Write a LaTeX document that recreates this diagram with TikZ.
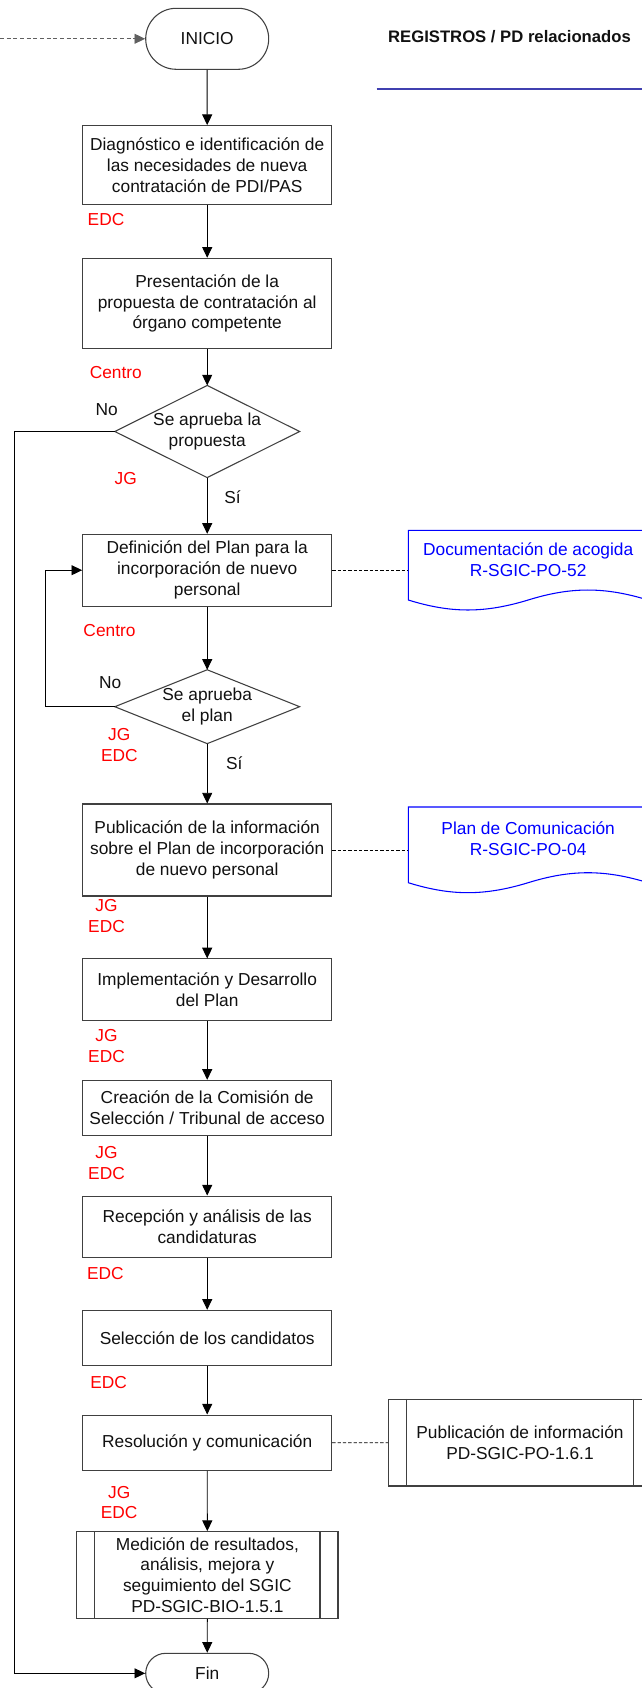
\documentclass[tikz,border=0pt]{standalone}
\usepackage{fontspec}
\setmainfont{Liberation Sans}
\usetikzlibrary{shapes.geometric,shapes.misc,arrows.meta}
\definecolor{boxline}{HTML}{404040}
\definecolor{txt}{HTML}{111111}
\definecolor{lblred}{HTML}{FF0000}
\definecolor{docblue}{HTML}{0000FF}
\definecolor{rulecol}{HTML}{4040B0}
\definecolor{dashgray}{HTML}{606060}
\begin{document}
\begin{tikzpicture}[x=0.75pt,y=-0.75pt,
  every node/.style={font=\fontsize{13}{15.6}\selectfont, inner sep=0pt, align=center},
  conn/.style={draw=black, line width=0.7pt, -{Triangle[length=8pt,width=7.5pt]}},
  startconn/.style={draw=dashgray, line width=0.7pt, dash pattern=on 3pt off 2pt, -{Triangle[length=8pt,width=7.5pt]}},
  docdash/.style={draw=black, line width=0.6pt, dash pattern=on 2.5pt off 1.5pt},
  proc/.style={draw=boxline, line width=0.8pt, rectangle, minimum width=186.75pt, text=txt},
  term/.style={draw=boxline, line width=0.8pt, rounded rectangle, minimum width=92.25pt, text=txt},
  decbox/.style={rectangle, minimum width=138.2pt, minimum height=68.7pt, text=txt},
  decline/.style={draw=boxline, line width=0.8pt},
  lbl/.style={text=lblred},
  yn/.style={text=txt},
  docnode/.style={rectangle, minimum width=179.8pt, text=docblue},
  docline/.style={draw=docblue, line width=0.8pt},
  subproc/.style={draw=boxline, line width=0.8pt, rectangle, text=txt}
]
\useasboundingbox (0,0) rectangle (642,1688);
\fill[white] (0,0) rectangle (642,1688);
\clip (0,0) rectangle (642,1688);

% title
\node[text=txt, font=\fontsize{12.5}{15}\selectfont\bfseries] (title) at (509.5,36.7) {REGISTROS / PD relacionados};
\coordinate (rl) at (376.7,89);
\coordinate (rr) at (642,89);
\draw[draw=rulecol, line width=0.8pt] (rl) -- (rr);

% main flow
\node[term, minimum height=45.75pt] (inicio) at (207.2,38.8) {INICIO};
\node[proc, minimum height=59pt] (b1) at (207.2,165) {Diagnóstico e identificación de\\las necesidades de nueva\\contratación de PDI/PAS};
\node[proc, minimum height=67.8pt] (b2) at (207.2,303.5) {Presentación de la\\propuesta de contratación al\\órgano competente};
\node[decbox] (d1) at (207.2,431.5) {Se aprueba la\\propuesta};
\draw[decline] (d1.north) -- (d1.east) -- (d1.south) -- (d1.west) -- cycle;
\node[proc, minimum height=53.8pt] (b3) at (207.2,570.2) {Definición del Plan para la\\incorporación de nuevo\\personal};
\node[decbox, minimum height=55pt] (d2) at (207.2,706.7) {Se aprueba\\el plan};
\draw[decline] (d2.north) -- (d2.east) -- (d2.south) -- (d2.west) -- cycle;
\node[proc, minimum height=69pt] (b4) at (207.2,850) {Publicación de la información\\sobre el Plan de incorporación\\de nuevo personal};
\node[proc, minimum height=46.3pt] (b5) at (207.2,989.8) {Implementación y Desarrollo\\del Plan};
\node[proc, minimum height=41.5pt] (b6) at (207.2,1108) {Creación de la Comisión de\\Selección / Tribunal de acceso};
\node[proc, minimum height=46pt] (b7) at (207.2,1226.7) {Recepción y análisis de las\\candidaturas};
\node[proc, minimum height=41.25pt] (b8) at (207.2,1337.8) {Selección de los candidatos};
\node[proc, minimum height=41.5pt] (b9) at (207.2,1442.7) {Resolución y comunicación};
\node[subproc, minimum width=196pt, minimum height=65pt] (b10) at (207.35,1575) {Medición de resultados,\\análisis, mejora y\\seguimiento del SGIC\\PD-SGIC-BIO-1.5.1};
\draw[decline] ([xshift=13.9pt]b10.north west) -- ([xshift=13.9pt]b10.south west);
\draw[decline] ([xshift=-13.9pt]b10.north east) -- ([xshift=-13.9pt]b10.south east);
\node[term, minimum height=30pt] (fin) at (207.2,1673.3) {Fin};

% connectors
\coordinate (start) at (0,38.8);
\draw[startconn] (start) -- (inicio.west);
\draw[conn] (inicio) -- (b1);
\draw[conn] (b1) -- (b2);
\draw[conn] (b2) -- (d1);
\draw[conn] (d1) -- (b3);
\draw[conn] (b3) -- (d2);
\draw[conn] (d2) -- (b4);
\draw[conn] (b4) -- (b5);
\draw[conn] (b5) -- (b6);
\draw[conn] (b6) -- (b7);
\draw[conn] (b7) -- (b8);
\draw[conn] (b8) -- (b9);
\draw[conn] (b9) -- (b10);
\draw[conn] (b10) -- (fin);
\coordinate (lx) at (14,0);
\draw[conn] (d1.west) -- (d1.west -| lx) -- (lx |- fin.west) -- (fin.west);
\coordinate (ix) at (45,0);
\draw[conn] (d2.west) -- (d2.west -| ix) -- (ix |- b3.west) -- (b3.west);

% labels
\node[lbl] (l1) at (106,220) {EDC};
\node[lbl] (l2) at (115.8,372.3) {Centro};
\node[yn] (no1) at (106.7,410) {No};
\node[lbl] (l3) at (125.8,479) {JG};
\node[yn] (si1) at (232.5,497) {Sí};
\node[lbl] (l4) at (109.5,631) {Centro};
\node[yn] (no2) at (110.3,682.3) {No};
\node[lbl] (l5) at (119.3,744.7) {JG\\EDC};
\node[yn] (si2) at (234.3,763.3) {Sí};
\node[lbl] (l6) at (106.5,916.3) {JG\\EDC};
\node[lbl] (l7) at (106.5,1046.3) {JG\\EDC};
\node[lbl] (l8) at (106.5,1163) {JG\\EDC};
\node[lbl] (l9) at (105.3,1274) {EDC};
\node[lbl] (l10) at (108.7,1382.7) {EDC};
\node[lbl] (l11) at (119.2,1502.5) {JG\\EDC};

% documents
\node[docnode] (doc1) at (528.2,559.8) {Documentación de acogida\\R-SGIC-PO-52};
\draw[docline] (408.3,600) -- (408.3,530.3) -- (648,530.3) -- (648,600)
  .. controls (604.7,586.7) and (571,586.7) .. (528.15,600)
  .. controls (484.5,613.3) and (451,613.3) .. (408.3,600) -- cycle;
\draw[docdash] (b3.east) -- (b3.east -| doc1.west);

\node[docnode] (doc2) at (528.2,838.8) {Plan de Comunicación\\R-SGIC-PO-04};
\draw[docline] (408.3,882.7) -- (408.3,807) -- (648,807) -- (648,882.7)
  .. controls (604.7,869.4) and (571,869.4) .. (528.15,882.7)
  .. controls (484.5,896) and (451,896) .. (408.3,882.7) -- cycle;
\draw[docdash] (b4.east) -- (b4.east -| doc2.west);

\node[subproc, minimum width=197.55pt, minimum height=65pt] (doc3) at (520,1442.65) {Publicación de información\\PD-SGIC-PO-1.6.1};
\draw[decline] ([xshift=14.25pt]doc3.north west) -- ([xshift=14.25pt]doc3.south west);
\draw[decline] ([xshift=-14.25pt]doc3.north east) -- ([xshift=-14.25pt]doc3.south east);
\draw[docdash] (b9.east) -- (doc3.west);
\end{tikzpicture}
\end{document}
